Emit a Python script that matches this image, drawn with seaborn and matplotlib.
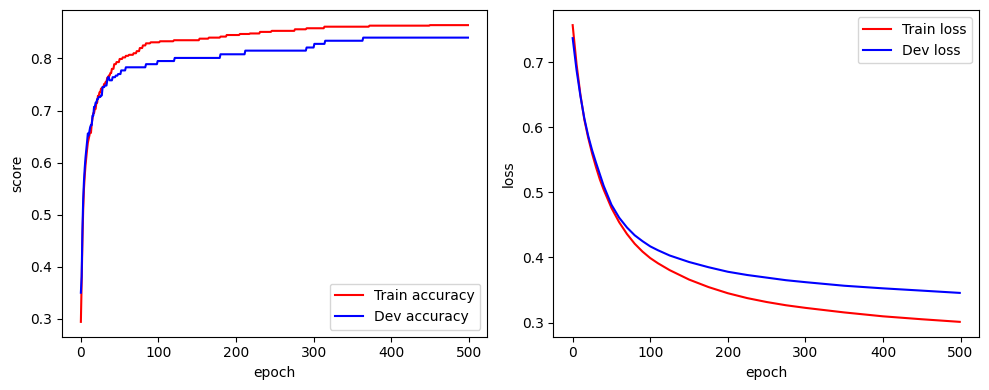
import matplotlib
matplotlib.use("Agg")
import matplotlib.pyplot as plt
import seaborn as sns

# ---- accuracy (epochs where the value changes, and the new value) ----
train_acc_epoch = [0, 1, 2, 3, 4, 5, 6, 7, 8, 9, 10, 11, 12, 13, 14, 15, 16, 18, 20, 22, 24, 26, 28, 30,
                   32, 34, 36, 38, 40, 43, 46, 50, 54, 58, 62, 68, 72, 76, 80, 84, 90, 102, 120, 153,
                   165, 180, 188, 205, 218, 231, 246, 276, 291, 314, 372, 450, 499]
train_acc = [0.294, 0.37, 0.45, 0.51, 0.55, 0.575, 0.595, 0.61, 0.625, 0.638, 0.645, 0.652, 0.66,
             0.657, 0.675, 0.685, 0.695, 0.703, 0.715, 0.728, 0.735, 0.742, 0.745, 0.751, 0.755,
             0.763, 0.767, 0.772, 0.78, 0.789, 0.793, 0.799, 0.802, 0.805, 0.807, 0.810, 0.814,
             0.82, 0.825, 0.829, 0.831, 0.833, 0.835, 0.838, 0.84, 0.842, 0.845, 0.847, 0.848,
             0.851, 0.853, 0.856, 0.858, 0.861, 0.863, 0.864, 0.864]

dev_acc_epoch = [0, 1, 2, 3, 4, 5, 6, 7, 8, 9, 10, 11, 12, 13, 15, 17, 19, 21, 23, 26, 28, 31, 34,
                 35, 37, 41, 45, 48, 52, 58, 84, 99, 121, 180, 212, 291, 301, 315, 364, 499]
dev_acc = [0.350, 0.381, 0.47, 0.53, 0.565, 0.59, 0.61, 0.625, 0.64, 0.656, 0.652, 0.660, 0.668,
           0.672, 0.69, 0.707, 0.715, 0.722, 0.726, 0.729, 0.745, 0.748, 0.758, 0.764, 0.758,
           0.764, 0.767, 0.770, 0.777, 0.783, 0.789, 0.795, 0.801, 0.808, 0.815, 0.821, 0.828,
           0.834, 0.840, 0.840]

# ---- loss ----
loss_epoch = [0, 5, 10, 15, 20, 25, 30, 35, 40, 50, 60, 70, 80, 90, 100, 110, 125, 150,
              175, 200, 225, 250, 275, 300, 350, 400, 450, 499]
train_loss = [0.757, 0.697, 0.650, 0.612, 0.584, 0.560, 0.539, 0.520, 0.504, 0.476, 0.454, 0.436,
              0.421, 0.409, 0.399, 0.391, 0.3805, 0.366, 0.3545, 0.345, 0.3375, 0.3315, 0.3265,
              0.3225, 0.3155, 0.3095, 0.305, 0.301]
dev_loss = [0.737, 0.688, 0.648, 0.614, 0.587, 0.565, 0.546, 0.528, 0.510, 0.481, 0.461, 0.446,
            0.434, 0.425, 0.417, 0.411, 0.403, 0.393, 0.385, 0.378, 0.373, 0.369, 0.365, 0.362,
            0.3565, 0.3525, 0.349, 0.3455]


def held(epochs, values):
    """Per-epoch line: each value holds until the epoch before the next change."""
    xs, ys = [epochs[0]], [values[0]]
    for i in range(1, len(epochs)):
        if epochs[i] - 1 > epochs[i - 1]:
            xs.append(epochs[i] - 1)
            ys.append(values[i - 1])
        xs.append(epochs[i])
        ys.append(values[i])
    return xs, ys


fig, (ax1, ax2) = plt.subplots(1, 2, figsize=(9.89, 3.9), dpi=100)

tx, ty = held(train_acc_epoch, train_acc)
dx, dy = held(dev_acc_epoch, dev_acc)
sns.lineplot(x=tx, y=ty, ax=ax1, color="red", label="Train accuracy", linewidth=1.5, sort=False)
sns.lineplot(x=dx, y=dy, ax=ax1, color="blue", label="Dev accuracy", linewidth=1.5, sort=False)
ax1.set_xlabel("epoch")
ax1.set_ylabel("score")
ax1.legend(loc="lower right")

sns.lineplot(x=loss_epoch, y=train_loss, ax=ax2, color="red", label="Train loss", linewidth=1.5)
sns.lineplot(x=loss_epoch, y=dev_loss, ax=ax2, color="blue", label="Dev loss", linewidth=1.5)
ax2.set_xlabel("epoch")
ax2.set_ylabel("loss")
ax2.legend(loc="upper right")

fig.subplots_adjust(left=0.0622, right=0.990, top=0.9736, bottom=0.1367, wspace=0.155)
fig.savefig("out.png", dpi=100)
